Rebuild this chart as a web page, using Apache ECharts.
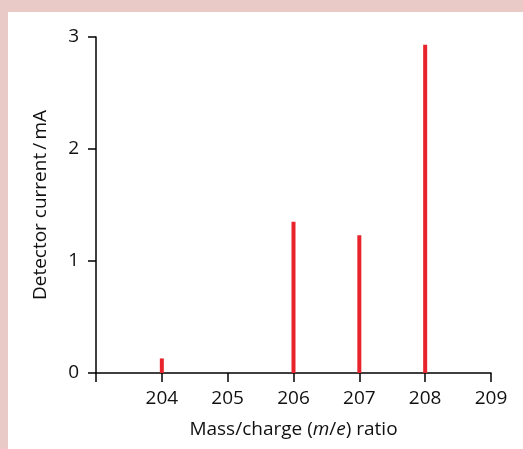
<!DOCTYPE html>
<html>
<head>
<meta charset="utf-8">
<script src="https://cdn.jsdelivr.net/npm/echarts@6/dist/echarts.min.js"></script>
<style>
  html, body { margin: 0; padding: 0; }
  body { width: 523px; height: 449px; background: #e9cac6; position: relative; overflow: hidden; }
  #chart { position: absolute; left: 8px; top: 12px; width: 515px; height: 437px; background: #fff; }
</style>
</head>
<body>
<div id="chart"></div>
<script>
// mass/charge values and detector current (mA)
const massCharge = [204, 206, 207, 208];
const current = [0.13, 1.35, 1.23, 2.93];
const xTicks = [203, 204, 205, 206, 207, 208, 209];
const yTicks = [0, 1, 2, 3];

const font = '"Open Sans", "Noto Sans", sans-serif';
const ink = '#111';

const myChart = echarts.init(document.getElementById('chart'));
myChart.setOption({
  animation: false,
  grid: {
    left: 88,
    right: 32,
    top: 25,
    bottom: 76
  },
  xAxis: {
    type: 'value',
    min: xTicks[0],
    max: xTicks[xTicks.length - 1],
    interval: 1,
    name: '{n|Mass/charge (}{i|m}{n|/}{i|e}{n|) ratio}',
    nameLocation: 'middle',
    nameGap: 47,
    nameTextStyle: {
      rich: {
        n: { fontFamily: font, fontSize: 19, color: ink },
        i: { fontFamily: font, fontSize: 19, color: ink, fontStyle: 'italic' }
      }
    },
    axisLine: { lineStyle: { color: '#000', width: 1.5 } },
    axisTick: { length: 9, lineStyle: { color: '#000', width: 1.5 } },
    axisLabel: {
      margin: 16,
      fontFamily: font,
      fontSize: 19,
      color: ink,
      formatter: v => (v === xTicks[0] ? '' : String(v))
    },
    splitLine: { show: false }
  },
  yAxis: {
    type: 'value',
    min: yTicks[0],
    max: yTicks[yTicks.length - 1],
    interval: 1,
    name: 'Detector current\u2009/\u2009mA',
    nameLocation: 'middle',
    nameGap: 46,
    nameRotate: 90,
    nameTextStyle: { fontFamily: font, fontSize: 19, color: ink },
    axisLine: { show: true, lineStyle: { color: '#000', width: 1.5 } },
    axisTick: { show: true, length: 8, lineStyle: { color: '#000', width: 1.5 } },
    axisLabel: { margin: 17, fontFamily: font, fontSize: 19, color: ink },
    splitLine: { show: false }
  },
  series: [
    {
      type: 'bar',
      barWidth: 4,
      data: massCharge.map((m, i) => [m, current[i]]),
      itemStyle: { color: '#e8232b' }
    }
  ]
});
</script>
</body>
</html>
